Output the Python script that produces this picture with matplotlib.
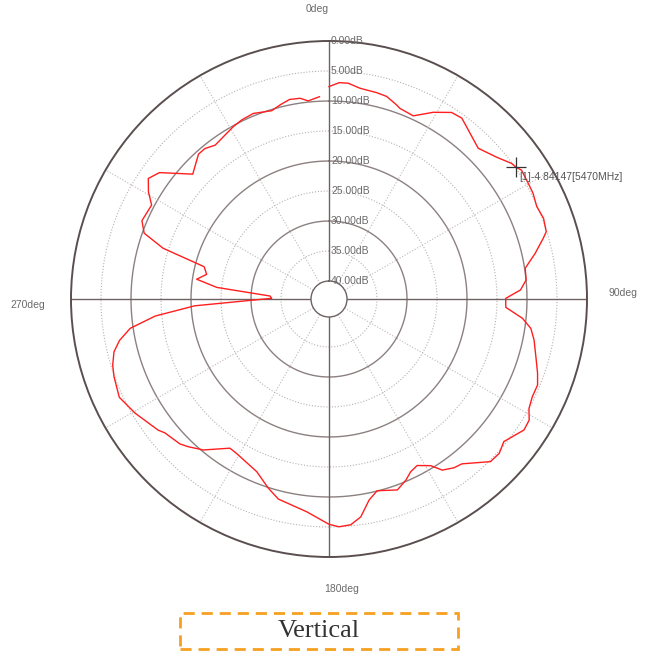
import numpy as np
import matplotlib
matplotlib.use("Agg")
import matplotlib.pyplot as plt
from matplotlib.patches import Rectangle
from matplotlib.transforms import offset_copy

plt.rcParams['font.family'] = ['Liberation Sans', 'DejaVu Sans']

# measured pattern, 5470 MHz, vertical cut
angles_deg = [0, 2.7, 5.1, 8.4, 13.0, 15.9, 19.2, 20.4, 24.7, 29.2,
              33.3, 36.3, 44.7, 49.8, 53.4, 54.9, 56.2, 59.9, 62.6, 66.0,
              69.4, 72.8, 74.2, 77.5, 81.1, 84.5, 87.3, 89.8, 92.7, 95.7,
              98.3, 101.3, 105.6, 109.6, 112.4, 115.7, 118.7, 121.2, 123.9, 129.2,
              132.2, 135.2, 141.1, 143.5, 146.5, 148.6, 152.1, 154.7, 157.0, 160.3,
              165.9, 168.7, 171.7, 174.5, 177.5, 180.0, 186.0, 194.2, 197.8, 202.7,
              210.9, 213.6, 219.8, 223.6, 225.8, 230.8, 232.5, 239.5, 244.9, 250.1,
              253.0, 256.2, 258.8, 261.6, 264.4, 267.1, 270.7, 272.9, 275.9, 278.5,
              281.4, 284.5, 287.0, 289.6, 292.7, 295.2, 297.9, 300.7, 303.7, 306.7,
              312.5, 318.0, 320.5, 323.5, 330.9, 334.0, 337.8, 343.1, 345.8, 348.8,
              351.8, 354.0, 357.3]
gain_db = [-7.6, -6.9, -6.9, -7.5, -7.7, -7.9, -8.75, -9.1, -9.4, -7.35,
           -5.8, -5.6, -7.65, -6.4, -5.1, -4.84, -4.4, -4.6, -4.7, -5.1,
           -4.8, -5.1, -5.9, -7.8, -9.9, -10.0, -11.05, -13.55, -13.5, -10.6,
           -9.0, -8.15, -7.2, -6.1, -5.4, -5.4, -5.0, -4.0, -3.85, -5.4,
           -4.7, -4.8, -7.7, -8.0, -8.8, -10.45, -11.6, -11.15, -10.2, -9.2,
           -10.05, -8.85, -6.3, -5.2, -5.0, -5.45, -7.35, -8.6, -9.9, -11.8,
           -13.0, -13.15, -10.25, -9.0, -8.35, -7.7, -7.1, -5.5, -4.4, -4.9,
           -5.3, -6.1, -7.4, -9.5, -13.9, -20.6, -33.45, -33.15, -24.2, -20.7,
           -22.2, -21.5, -14.1, -10.3, -9.2, -9.4, -9.55, -8.0, -6.8, -7.75,
           -12.2, -10.5, -10.5, -11.1, -10.15, -9.8, -9.6, -10.2, -9.65, -9.1,
           -9.2, -9.8, -9.25]

marker_deg = 54.9
marker_db = -4.84147
marker_freq = "5470MHz"

ring_db = [0, -5, -10, -15, -20, -25, -30, -35, -40]
ring_labels = ["0.00dB", "5.00dB", "10.00dB", "15.00dB", "20.00dB",
               "25.00dB", "30.00dB", "35.00dB", "40.00dB"]
spoke_deg = [0, 30, 60, 90, 120, 150, 180, 210, 240, 270, 300, 330]
title = "Vertical"

fig = plt.figure(figsize=(6.53, 6.57), dpi=100)
ax = fig.add_axes([71/653, 100/657, 516/653, 516/657], projection='polar')
ax.set_theta_zero_location('N')
ax.set_theta_direction(-1)
ax.set_ylim(-40, 0)
ax.set_rorigin(-43)
ax.grid(False)
ax.set_xticks([])
ax.set_yticks([])
ax.spines['polar'].set_color('#5a4e4e')
ax.spines['polar'].set_linewidth(1.4)
ax.spines['inner'].set_color('#6e6262')
ax.spines['inner'].set_linewidth(1.0)

th = np.linspace(0, 2*np.pi, 721)
for r in ring_db[1:-1]:
    if r % 10 == 0:
        ax.plot(th, np.full_like(th, r), color='#8c8080', lw=1.0, zorder=1)
    else:
        ax.plot(th, np.full_like(th, r), color='#b8b0b0', lw=0.8,
                ls=(0, (1, 1.6)), zorder=1)

for a in spoke_deg:
    t = np.radians(a)
    if a % 90 == 0:
        ax.plot([t, t], [-40, 0], color='#6e6262', lw=1.0, zorder=1)
    else:
        ax.plot([t, t], [-40, 0], color='#c0b8b8', lw=0.8,
                ls=(0, (1, 1.6)), zorder=1)

lab_tr = offset_copy(ax.transData, fig=fig, x=2, y=0, units='dots')
for r, lab in zip(ring_db, ring_labels):
    ax.text(0, r, lab, ha='left', va='center', fontsize=7.5, color='#6a6a6a',
            zorder=4, transform=lab_tr)

ax.plot(np.radians(angles_deg), gain_db, color='#ff1e1e', lw=1.0, zorder=3)

ax.plot(np.radians(marker_deg), marker_db, marker='+', ms=14, mew=0.9,
        color='#333333', zorder=5, clip_on=False)
ax.annotate("[1]%.5f[%s]" % (marker_db, marker_freq),
            xy=(np.radians(marker_deg), marker_db), xytext=(3, -10),
            textcoords='offset pixels', fontsize=7.5, color='#555555',
            ha='left', va='center', zorder=5)

fig.text(317/653, 1 - 9/657, "0deg", ha='center', va='center',
         fontsize=7.5, color='#6a6a6a')
fig.text(623/653, 1 - 293/657, "90deg", ha='center', va='center',
         fontsize=7.5, color='#6a6a6a')
fig.text(342/653, 1 - 589/657, "180deg", ha='center', va='center',
         fontsize=7.5, color='#6a6a6a')
fig.text(28/653, 1 - 305/657, "270deg", ha='center', va='center',
         fontsize=7.5, color='#6a6a6a')

fig.patches.append(Rectangle((180/653, 1 - 649/657), 278/653, 36/657,
                             transform=fig.transFigure, fill=False,
                             edgecolor='#f5a020', lw=2.0,
                             ls=(0, (4, 2.5))))
fig.text(319/653, 1 - 631/657, title, ha='center', va='center',
         fontsize=19, color='#333333',
         family=['Liberation Serif', 'DejaVu Serif'])

fig.savefig("out.png", dpi=100)
